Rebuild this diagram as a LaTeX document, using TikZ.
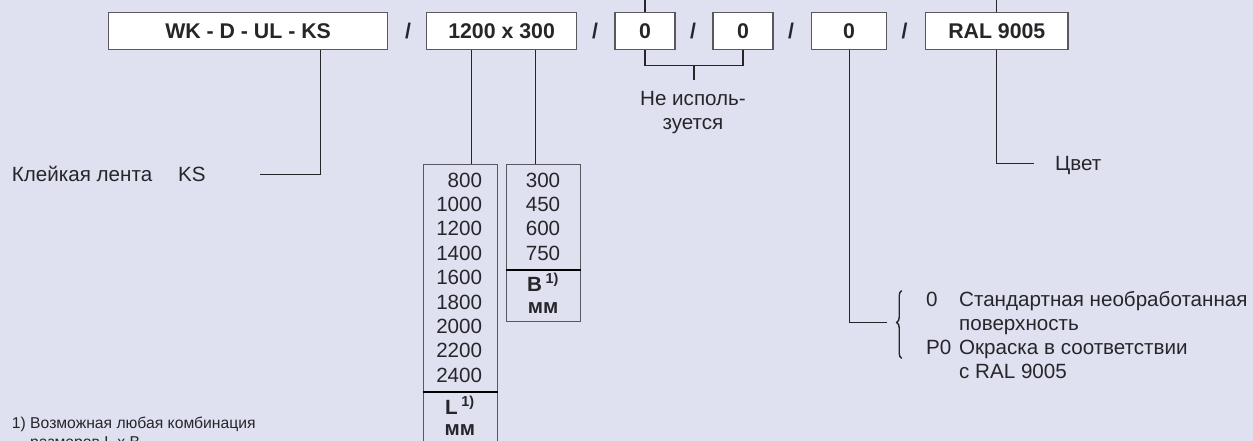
\documentclass[tikz,border=0pt]{standalone}
\usepackage{fontspec}
\setmainfont{Liberation Sans}
\usetikzlibrary{decorations.pathreplacing, positioning}
\definecolor{bgpaper}{RGB}{223,225,241}
\definecolor{rimgray}{RGB}{88,88,94}
\definecolor{inkgray}{RGB}{38,38,42}
\newcommand{\fnmark}{\textsuperscript{1)}}

\begin{document}
\begin{tikzpicture}[x=1pt, y=-1pt,
    codebox/.style={draw=rimgray, fill=white, line width=1.2pt, inner sep=0pt, minimum height=36.6pt, text=inkgray, font=\fontsize{21.3}{24}\selectfont\bfseries},
    slashmark/.style={inner sep=0pt, text=inkgray, font=\fontsize{21.3}{24}\selectfont\bfseries},
    valbox/.style={draw=rimgray, line width=1.2pt, inner sep=0pt, anchor=north west, minimum width=74.3pt},
    lead/.style={draw=inkgray, line width=1.2pt},
    rule/.style={draw=black, line width=2.2pt},
    notetext/.style={inner sep=0pt, text=inkgray, font=\fontsize{20.6}{24}\selectfont},
    unittext/.style={notetext, anchor=base, font=\fontsize{20.6}{24}\selectfont\bfseries},
    ]
    \useasboundingbox (0,0) rectangle (1253,441);
    \clip (0,0) rectangle (1253,441);
    \fill[bgpaper] (0,0) rectangle (1253,441);

    % code line
    \node[codebox, minimum width=279.2pt] (wk) at (248.1,31) {WK - D - UL - KS};
    \node[slashmark] (s1) at (408,31) {/};
    \node[codebox, minimum width=149.8pt] (size) at (501.6,31) {1200 x 300};
    \node[slashmark] (s2) at (595,31) {/};
    \node[codebox, minimum width=60pt] (za) at (645,31) {0};
    \node[slashmark] (s3) at (693,31) {/};
    \node[codebox, minimum width=60pt] (zb) at (743,31) {0};
    \node[slashmark] (s4) at (791,31) {/};
    \node[codebox, minimum width=74.6pt] (surf) at (849.1,31) {0};
    \node[slashmark] (s5) at (904.6,31) {/};
    \node[codebox, minimum width=142.4pt] (ral) at (996.8,31) {RAL 9005};

    \coordinate (topedge) at (0,-4);
    \draw[lead] (za.north) -- (za.north |- topedge);
    \draw[lead] (ral.north) -- (ral.north |- topedge);

    % adhesive tape
    \node[notetext, anchor=base west] (tape) at (11.7,182) {Клейкая лента\hspace{26pt}KS};
    \coordinate (tapebend) at (320.5,174.3);
    \coordinate (tapeend) at (260,174.3);
    \draw[lead] (wk.south -| tapebend) -- (tapebend) -- (tapeend);

    % sizes
    \node[valbox, minimum height=290pt] (lenbox) at (422.7,164) {};
    \node[valbox, minimum height=156.7pt] (widbox) at (505.7,164) {};
    \coordinate (lenfeed) at (471.7,0);
    \coordinate (widfeed) at (535.7,0);
    \draw[lead] (size.south -| lenfeed) -- (lenbox.north -| lenfeed);
    \draw[lead] (size.south -| widfeed) -- (widbox.north -| widfeed);

    \foreach \len [count=\i from 0] in {800,1000,...,2400}
        \node[notetext, anchor=base east] (len\i) at (482.3,{187+24.4*\i}) {\len};
    \foreach \wid [count=\i from 0] in {300,450,600,750}
        \node[notetext, anchor=base] (wid\i) at (543,{187+24.4*\i}) {\wid};

    \path (lenbox.north west) ++(0,228.3) coordinate (lenrule);
    \path (widbox.north west) ++(0,106) coordinate (widrule);
    \draw[rule] (lenrule) -- (lenrule -| lenbox.east);
    \draw[rule] (widrule) -- (widrule -| widbox.east);

    \node[unittext] (lenunit) at (459.9,414) {L\,\fnmark};
    \node[unittext] (lenmm) at (459.9,435.5) {мм};
    \node[unittext] (widunit) at (543,291.5) {B\,\fnmark};
    \node[unittext] (widmm) at (543,313) {мм};

    % not used
    \coordinate (gapmid) at (694,65.7);
    \coordinate (gapfoot) at (694,80);
    \draw[lead] (za.south) |- (gapmid) -| (zb.south);
    \draw[lead] (gapmid) -- (gapfoot);
    \node[notetext, anchor=base] (unused) at (693,105.5) {\begin{tabular}[t]{@{}c@{}}Не исполь-\\зуется\end{tabular}};

    % surface
    \coordinate (bracetip) at (886.7,322.3);
    \draw[lead] (surf.south) |- (bracetip);
    \draw[lead, line width=1.4pt, decorate, decoration={brace, amplitude=5pt, aspect=0.53}] (901.7,358.3) -- (901.7,290.7);
    \node[notetext, anchor=base west] (finish) at (926,306.5) {\begin{tabular}[t]{@{}p{33pt}@{}l@{}}0 & Стандартная необработанная\\ & поверхность\\ P0 & Окраска в соответствии\\ & с RAL 9005\end{tabular}};

    % colour
    \coordinate (colorend) at (1033.8,163.3);
    \draw[lead] (ral.south) |- (colorend);
    \node[notetext, anchor=base west] (colour) at (1055,170.5) {Цвет};

    % footnote
    \node[notetext, anchor=base west, font=\fontsize{15.7}{19}\selectfont] (footnote) at (11.7,428.3) {\begin{tabular}[t]{@{}l@{ }l@{}}1) & Возможная любая комбинация\\ & размеров L x B\end{tabular}};
\end{tikzpicture}
\end{document}
